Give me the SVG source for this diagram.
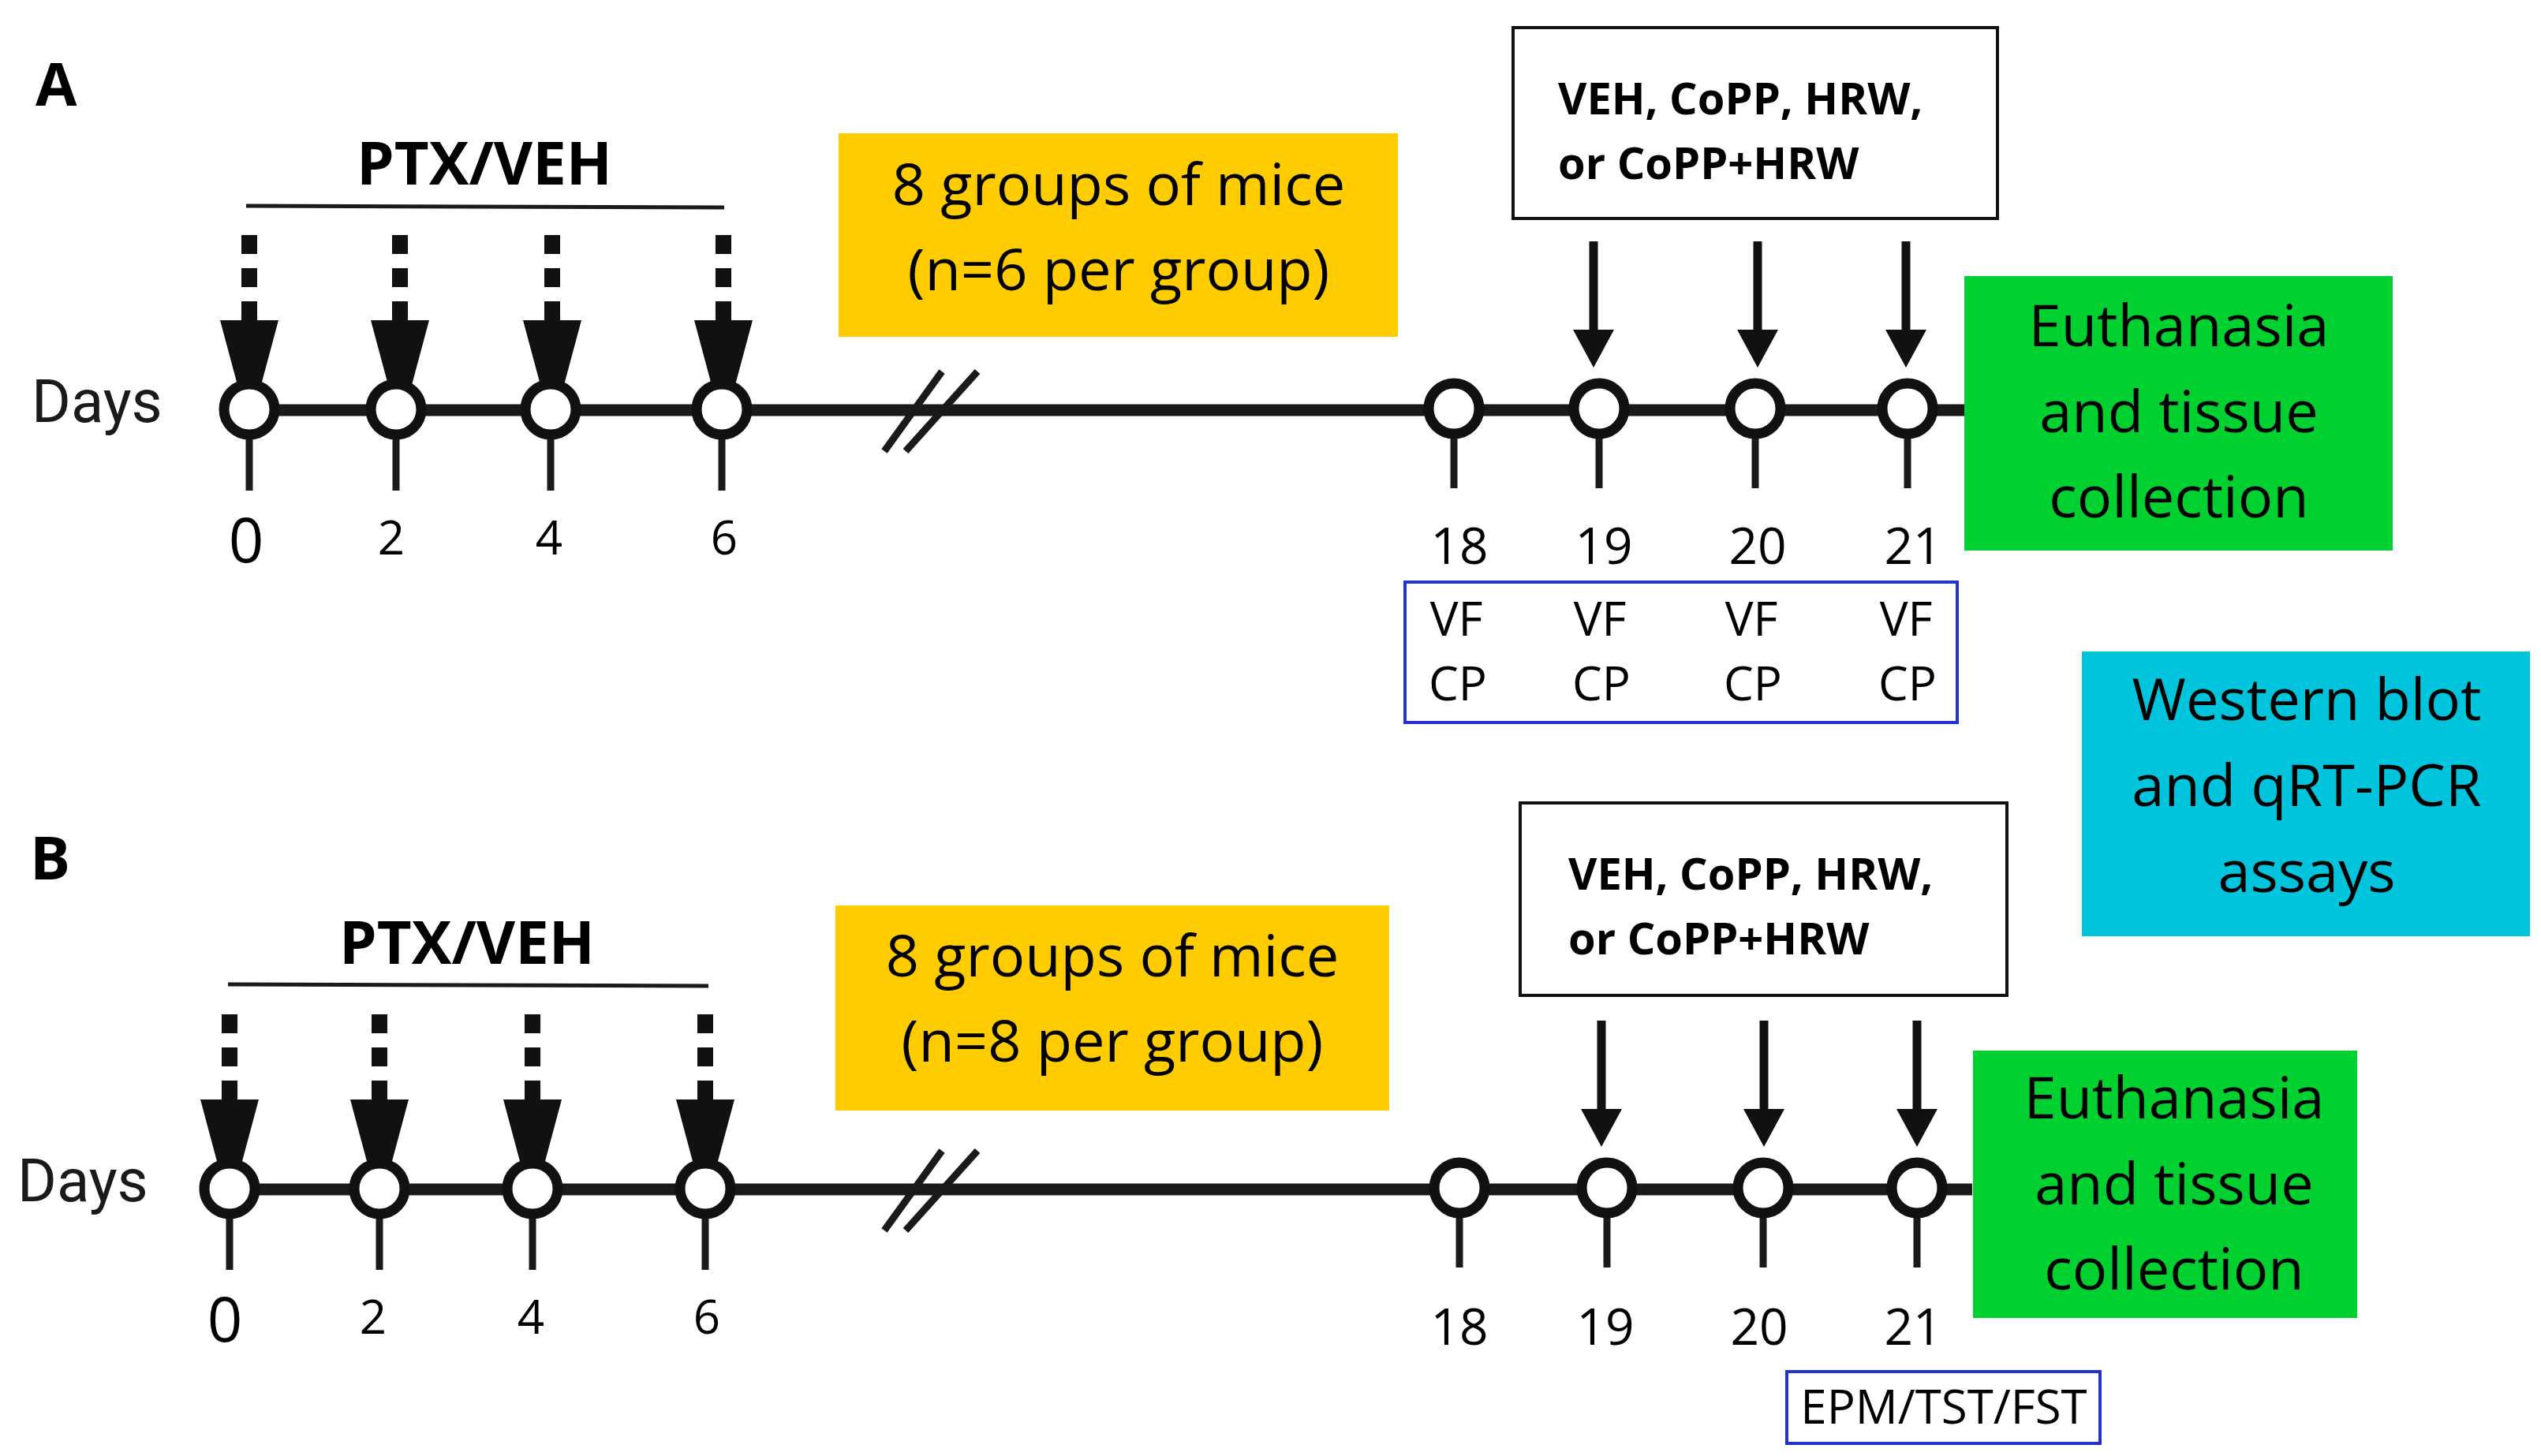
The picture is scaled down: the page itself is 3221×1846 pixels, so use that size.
<svg xmlns="http://www.w3.org/2000/svg" width="3221" height="1846" viewBox="0 0 3221 1846">
<style>
.t{font-family:"Open Sans","Liberation Sans",sans-serif;fill:#000}
.b{font-weight:bold}
.r{font-family:Roboto,"Liberation Sans",sans-serif;fill:#1a1a1a}
.ln{stroke:#1a1a1a;fill:none}
.c{fill:#fff;stroke:#111;stroke-width:13}
</style>
<defs>
<g id="dash"><line x1="0" y1="0" x2="0" y2="110" stroke="#111" stroke-width="20" stroke-dasharray="24,18"/><polygon points="-37,108 37,108 0,246" fill="#111"/></g>
<g id="solid"><line x1="0" y1="0" x2="0" y2="115" stroke="#111" stroke-width="11"/><polygon points="-26,112 26,112 0,160" fill="#111"/></g>
</defs>
<g id="panelA">
<text class="t b" x="45" y="134" font-size="76">A</text>
<text class="t b" x="614" y="234" font-size="76" text-anchor="middle">PTX/VEH</text>
<line class="ln" x1="312" y1="261" x2="918" y2="263" stroke-width="5"/>
</g>
<g id="connectors">
<use href="#dash" x="316" y="298"/><use href="#dash" x="507" y="298"/><use href="#dash" x="700" y="298"/><use href="#dash" x="917" y="298"/>
<use href="#solid" x="2020" y="306"/><use href="#solid" x="2228" y="306"/><use href="#solid" x="2416" y="306"/>
<use href="#dash" x="291" y="1286"/><use href="#dash" x="481" y="1286"/><use href="#dash" x="675" y="1286"/><use href="#dash" x="894" y="1286"/>
<use href="#solid" x="2030" y="1294"/><use href="#solid" x="2236" y="1294"/><use href="#solid" x="2430" y="1294"/>
</g>
<g id="timelineA">
<line class="ln" x1="316" y1="520" x2="2500" y2="520" stroke-width="15"/>
<g stroke="#1a1a1a" stroke-width="9">
<line x1="316" y1="540" x2="316" y2="622"/><line x1="502" y1="540" x2="502" y2="622"/><line x1="698" y1="540" x2="698" y2="622"/><line x1="915" y1="540" x2="915" y2="622"/>
<line x1="1843" y1="540" x2="1843" y2="619"/><line x1="2027" y1="540" x2="2027" y2="619"/><line x1="2225" y1="540" x2="2225" y2="619"/><line x1="2418" y1="540" x2="2418" y2="619"/>
<line x1="1121" y1="572" x2="1194" y2="471"/><line x1="1148" y1="572" x2="1239" y2="471"/>
</g>
<circle class="c" cx="316" cy="519" r="32"/><circle class="c" cx="502" cy="519" r="32"/><circle class="c" cx="698" cy="519" r="32"/><circle class="c" cx="915" cy="519" r="32"/>
<circle class="c" cx="1843" cy="518" r="32"/><circle class="c" cx="2027" cy="518" r="32"/><circle class="c" cx="2225" cy="518" r="32"/><circle class="c" cx="2418" cy="518" r="32"/>
<text class="r" x="40" y="535" font-size="76">Days</text>
<text class="t" x="312" y="713" font-size="78" text-anchor="middle">0</text>
<g class="t" font-size="60" text-anchor="middle"><text x="496" y="703">2</text><text x="696" y="703">4</text><text x="918" y="703">6</text></g>
<g class="t" font-size="64" text-anchor="middle"><text x="1850" y="715">18</text><text x="2033" y="715">19</text><text x="2228" y="715">20</text><text x="2425" y="715">21</text></g>
</g>
<g id="groupsA"><rect x="1063" y="169" width="709" height="258" fill="#ffcc00"/>
<text class="t" x="1418" y="260" font-size="74" text-anchor="middle">8 groups of mice</text>
<text class="t" x="1418" y="368" font-size="74" text-anchor="middle">(n=6 per group)</text></g>
<g id="treatA"><rect x="1918" y="35" width="614" height="242" fill="#fff" stroke="#111" stroke-width="4"/>
<text class="t b" x="1975" y="145" font-size="56">VEH, CoPP, HRW,</text>
<text class="t b" x="1975" y="227" font-size="56">or  CoPP+HRW</text></g>
<g id="euthA"><rect x="2490" y="350" width="543" height="348" fill="#00d130"/>
<g class="t" font-size="74" text-anchor="middle"><text x="2762" y="439">Euthanasia</text><text x="2762" y="548">and tissue</text><text x="2762" y="656">collection</text></g></g>
<g id="testsA"><rect x="1781" y="738" width="700" height="178" fill="#fff" stroke="#2233cc" stroke-width="4"/>
<g class="t" font-size="60" text-anchor="middle"><text x="1846" y="806">VF</text><text x="2028" y="806">VF</text><text x="2220" y="806">VF</text><text x="2416" y="806">VF</text>
<text x="1848" y="888">CP</text><text x="2030" y="888">CP</text><text x="2222" y="888">CP</text><text x="2418" y="888">CP</text></g></g>
<g id="western"><rect x="2639" y="826" width="568" height="361" fill="#00c4dc"/>
<g class="t" font-size="74" text-anchor="middle"><text x="2924" y="913">Western blot</text><text x="2924" y="1022">and qRT-PCR</text><text x="2924" y="1131">assays</text></g></g>
<g id="panelB">
<text class="t b" x="38" y="1115" font-size="76">B</text>
<text class="t b" x="592" y="1222" font-size="76" text-anchor="middle">PTX/VEH</text>
<line class="ln" x1="289" y1="1248" x2="898" y2="1250" stroke-width="5"/>
</g>
<g id="timelineB">
<line class="ln" x1="291" y1="1508" x2="2500" y2="1508" stroke-width="15"/>
<g stroke="#1a1a1a" stroke-width="9">
<line x1="291" y1="1528" x2="291" y2="1610"/><line x1="481" y1="1528" x2="481" y2="1610"/><line x1="675" y1="1528" x2="675" y2="1610"/><line x1="894" y1="1528" x2="894" y2="1610"/>
<line x1="1850" y1="1528" x2="1850" y2="1607"/><line x1="2037" y1="1528" x2="2037" y2="1607"/><line x1="2235" y1="1528" x2="2235" y2="1607"/><line x1="2430" y1="1528" x2="2430" y2="1607"/>
<line x1="1121" y1="1560" x2="1194" y2="1459"/><line x1="1148" y1="1560" x2="1239" y2="1459"/>
</g>
<circle class="c" cx="291" cy="1507" r="32"/><circle class="c" cx="481" cy="1507" r="32"/><circle class="c" cx="675" cy="1507" r="32"/><circle class="c" cx="894" cy="1507" r="32"/>
<circle class="c" cx="1850" cy="1506" r="32"/><circle class="c" cx="2037" cy="1506" r="32"/><circle class="c" cx="2235" cy="1506" r="32"/><circle class="c" cx="2430" cy="1506" r="32"/>
<text class="r" x="22" y="1523" font-size="76">Days</text>
<text class="t" x="285" y="1701" font-size="78" text-anchor="middle">0</text>
<g class="t" font-size="60" text-anchor="middle"><text x="473" y="1691">2</text><text x="673" y="1691">4</text><text x="896" y="1691">6</text></g>
<g class="t" font-size="64" text-anchor="middle"><text x="1850" y="1705">18</text><text x="2035" y="1705">19</text><text x="2230" y="1705">20</text><text x="2425" y="1705">21</text></g>
</g>
<g id="groupsB"><rect x="1059" y="1148" width="702" height="260" fill="#ffcc00"/>
<text class="t" x="1410" y="1238" font-size="74" text-anchor="middle">8 groups of mice</text>
<text class="t" x="1410" y="1346" font-size="74" text-anchor="middle">(n=8 per group)</text></g>
<g id="treatB"><rect x="1927" y="1018" width="617" height="244" fill="#fff" stroke="#111" stroke-width="4"/>
<text class="t b" x="1988" y="1128" font-size="56">VEH, CoPP, HRW,</text>
<text class="t b" x="1988" y="1210" font-size="56">or  CoPP+HRW</text></g>
<g id="euthB"><rect x="2501" y="1332" width="487" height="339" fill="#00d130"/>
<g class="t" font-size="74" text-anchor="middle"><text x="2756" y="1418">Euthanasia</text><text x="2756" y="1527">and tissue</text><text x="2756" y="1635">collection</text></g></g>
<g id="testsB"><rect x="2265" y="1739" width="397" height="91" fill="#fff" stroke="#2233cc" stroke-width="4"/>
<text class="t" x="2464" y="1805" font-size="60" text-anchor="middle">EPM/TST/FST</text></g>
</svg>
